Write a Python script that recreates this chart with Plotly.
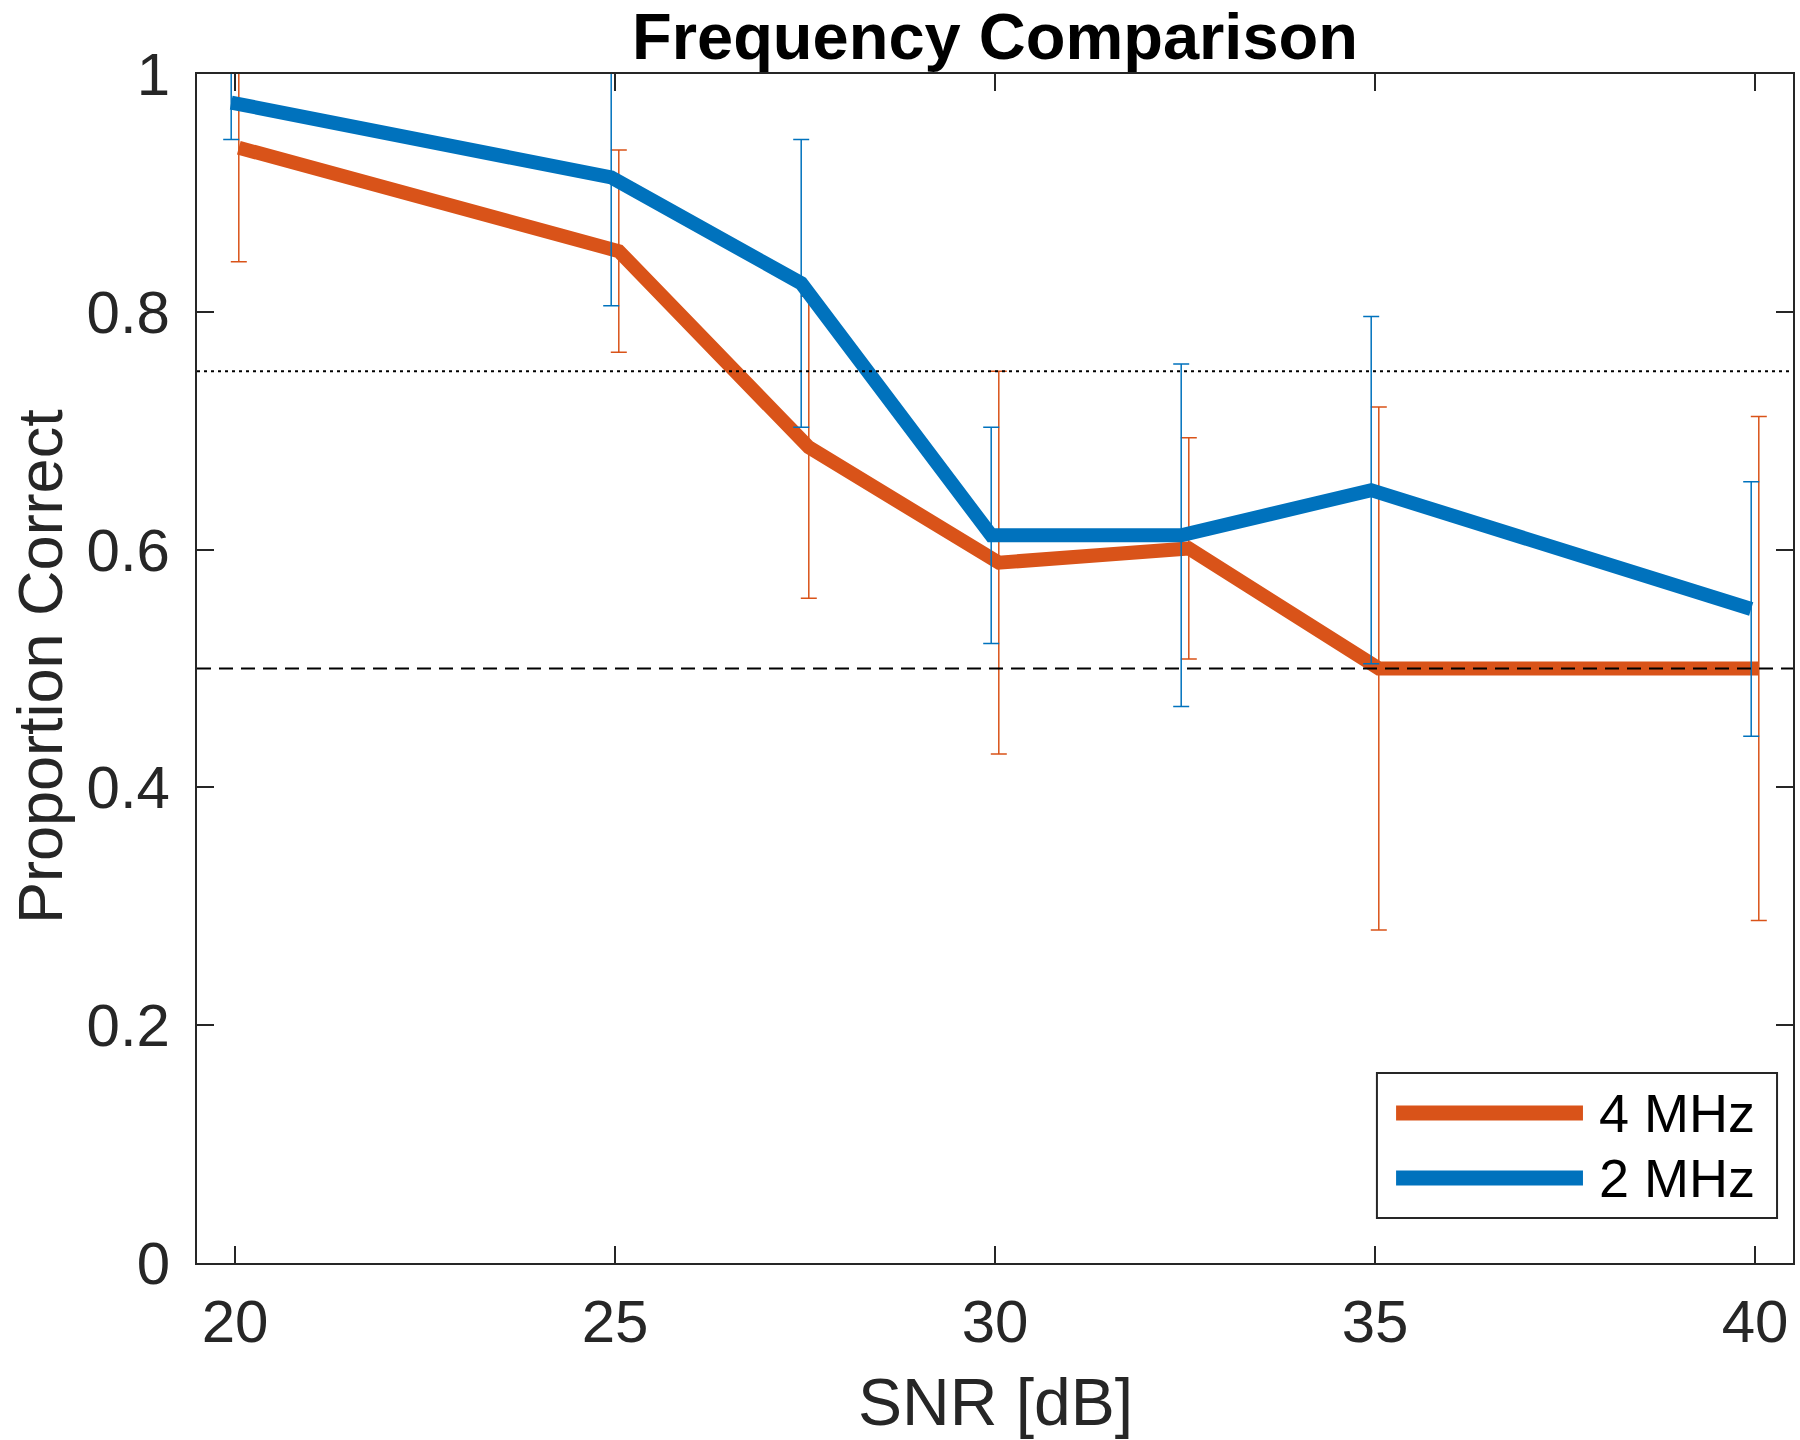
import plotly.graph_objects as go

# ---- data ----
snr_db = [20, 25, 27.5, 30, 32.5, 35, 40]
x_4mhz = [20.05, 25.05, 27.55, 30.05, 32.55, 35.05, 40.05]   # slight horizontal offset in the original
x_2mhz = [19.95, 24.95, 27.45, 29.95, 32.45, 34.95, 39.95]
pc_4mhz = [0.938, 0.851, 0.686, 0.589, 0.601, 0.500, 0.500]
err_4mhz = [0.096, 0.085, 0.127, 0.161, 0.093, 0.220, 0.212]
pc_2mhz = [0.976, 0.913, 0.824, 0.612, 0.612, 0.650, 0.550]
err_2mhz = [0.031, 0.108, 0.121, 0.091, 0.144, 0.146, 0.107]
threshold_level = 0.75
chance_level = 0.5
series_names = ["4 MHz", "2 MHz"]
x_ticks = [20, 25, 30, 35, 40]
y_ticks = [0, 0.2, 0.4, 0.6, 0.8, 1]
y_tick_labels = ["0", "0.2", "0.4", "0.6", "0.8", "1"]

ORANGE = "#D95319"
BLUE = "#0072BD"
AX = "#262626"
FONT = "Liberation Sans, Arial, Helvetica, sans-serif"

fig = go.Figure()
fig.add_trace(go.Scatter(
    x=x_4mhz, y=pc_4mhz, mode="lines", name=series_names[0],
    line=dict(color=ORANGE, width=14),
    error_y=dict(type="data", array=err_4mhz, color=ORANGE, thickness=1.5, width=8),
    showlegend=False,
))
fig.add_trace(go.Scatter(
    x=x_2mhz, y=pc_2mhz, mode="lines", name=series_names[1],
    line=dict(color=BLUE, width=14),
    error_y=dict(type="data", array=err_2mhz, color=BLUE, thickness=1.5, width=8),
    showlegend=False,
))

# reference lines
fig.add_shape(type="line", xref="x domain", yref="y", x0=0, x1=1,
              y0=threshold_level, y1=threshold_level, layer="above",
              line=dict(color="black", width=2, dash="3px,4px"))
fig.add_shape(type="line", xref="x domain", yref="y", x0=0, x1=1,
              y0=chance_level, y1=chance_level, layer="above",
              line=dict(color="black", width=2, dash="14px,8px"))

# custom legend (long line samples as in the original)
fig.add_shape(type="rect", xref="x domain", yref="y domain",
              x0=0.7393, x1=0.990, y0=0.0378, y1=0.1598, layer="above",
              fillcolor="white", line=dict(color=AX, width=2))
leg_rows = [(0.1262, ORANGE, series_names[0]), (0.0715, BLUE, series_names[1])]
for yy, col, name in leg_rows:
    fig.add_shape(type="line", xref="x domain", yref="y domain",
                  x0=0.7513, x1=0.8684, y0=yy, y1=yy, layer="above",
                  line=dict(color=col, width=15))
    fig.add_annotation(xref="x domain", yref="y domain", x=0.8772, y=yy,
                       text=name, showarrow=False, xanchor="left", yanchor="middle",
                       font=dict(family=FONT, size=54, color="black"))

# axis titles
fig.add_annotation(xref="paper", yref="paper", x=0.5, y=-0.117, text="SNR [dB]",
                   showarrow=False, xanchor="center", yanchor="middle",
                   font=dict(family=FONT, size=66, color=AX))
fig.add_annotation(xref="paper", yref="paper", x=-0.0984, y=0.502, text="Proportion Correct",
                   showarrow=False, xanchor="center", yanchor="middle", textangle=-90,
                   font=dict(family=FONT, size=63, color=AX))

fig.update_layout(
    width=1800, height=1440,
    margin=dict(l=197, r=7, t=74, b=177, autoexpand=False),
    paper_bgcolor="white", plot_bgcolor="white",
    font=dict(family=FONT, size=60, color=AX),
    title=dict(text="<b>Frequency Comparison</b>", x=0.5, xref="paper",
               y=1 - 36.5 / 1440, yref="container", xanchor="center", yanchor="middle",
               font=dict(family=FONT, size=65, color="black")),
    showlegend=False,
)
fig.update_xaxes(range=[19.5, 40.5], tickvals=x_ticks, ticks="inside", ticklen=17,
                 tickwidth=2, tickcolor=AX, showline=True, linecolor=AX, linewidth=2,
                 mirror="ticks", showgrid=False, zeroline=False, ticklabelstandoff=5,
                 tickfont=dict(family=FONT, size=60, color=AX))
fig.update_yaxes(range=[0, 1], tickvals=y_ticks, ticktext=y_tick_labels, ticks="inside",
                 ticklen=17, tickwidth=2, tickcolor=AX, showline=True, linecolor=AX,
                 linewidth=2, mirror="ticks", showgrid=False, zeroline=False,
                 ticklabelstandoff=13, tickfont=dict(family=FONT, size=60, color=AX))

fig.write_html("out.html", config={"displayModeBar": False},
               post_script="document.body.style.margin='0';document.body.style.padding='0';")
